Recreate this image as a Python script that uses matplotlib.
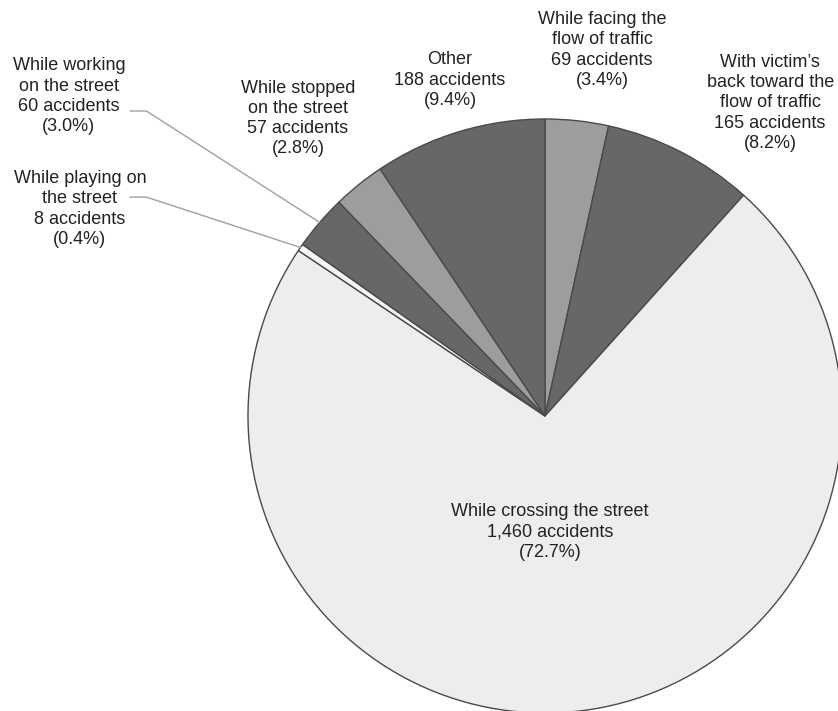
import numpy as np
import matplotlib
matplotlib.use('Agg')
import matplotlib.pyplot as plt

plt.rcParams['font.family'] = ['Liberation Sans', 'DejaVu Sans']

# Données
labels = ['While facing the\nflow of traffic',
          'With victim\u2019s\nback toward the\nflow of traffic',
          'While crossing the street',
          'While playing on\nthe street',
          'While working\non the street',
          'While stopped\non the street',
          'Other']
counts = [69, 165, 1460, 8, 60, 57, 188]
pcts = [3.4, 8.2, 72.7, 0.4, 3.0, 2.8, 9.4]
colors = ['#9d9d9d', '#676767', '#ecedef', '#f4f4f4', '#676767', '#9d9d9d', '#676767']

# positions des étiquettes (coordonnées du camembert, rayon = 1)
label_pos = [(0.192, 1.232), (0.758, 1.054), (0.017, -0.391), (-1.566, 0.697),
             (-1.603, 1.077), (-0.832, 1.002), (-0.320, 1.131)]
# départ des traits de rappel (petites parts)
leaders = {3: (-1.397, 0.737), 4: (-1.397, 1.027)}

fig = plt.figure(figsize=(8.38, 7.11), dpi=100)
ax = fig.add_axes([0, 0, 1, 1])
wedges, _ = ax.pie(counts, colors=colors, startangle=90, counterclock=False,
                   radius=1, center=(0, 0),
                   wedgeprops=dict(edgecolor='#4a4a4a', linewidth=1.0))
ax.set_xlim(-545 / 297, (838 - 545) / 297)
ax.set_ylim((416 - 711) / 297, 416 / 297)
ax.set_aspect('auto')
ax.axis('off')

for i, (lab, n, p) in enumerate(zip(labels, counts, pcts)):
    txt = lab + '\n' + '{:,} accidents'.format(n) + '\n' + '({:.1f}%)'.format(p)
    x, y = label_pos[i]
    ax.text(x, y, txt, ha='center', va='center', fontsize=13, color='#222222',
            linespacing=1.25)

for i, (sx, sy) in leaders.items():
    w = wedges[i]
    mid = np.deg2rad((w.theta1 + w.theta2) / 2)
    ex, ey = np.cos(mid), np.sin(mid)
    elbow_x = sx + 0.055
    ang = np.degrees(np.arctan2(ey - sy, ex - elbow_x))
    ax.annotate('', xy=(ex, ey), xytext=(sx, sy),
                arrowprops=dict(arrowstyle='-', color='#a0a0a0', lw=1.0,
                                shrinkA=0, shrinkB=0,
                                connectionstyle='angle,angleA=0,angleB={:.2f},rad=0'.format(ang)))

plt.savefig('out.png')
